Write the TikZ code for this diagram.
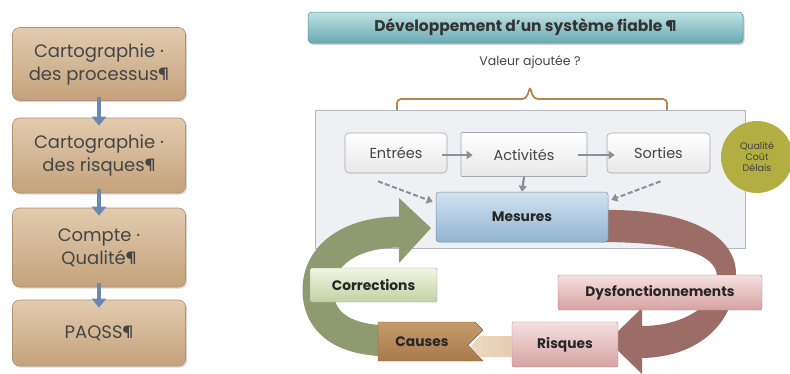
\documentclass[tikz,border=0pt]{standalone}
\usepackage{fontspec}
\setmainfont{Poppins}
\usetikzlibrary{arrows.meta,shadows,calc}
\definecolor{tanTop}{HTML}{E2CBAE}
\definecolor{tanBot}{HTML}{C4A27C}
\definecolor{tanLine}{HTML}{B09070}
\definecolor{steel}{HTML}{6A88B0}
\definecolor{tealTop}{HTML}{BFE2E4}
\definecolor{tealBot}{HTML}{6AAAB2}
\definecolor{panel}{HTML}{EEF0F4}
\definecolor{panelLine}{HTML}{B4B6BE}
\definecolor{boxLine}{HTML}{A8A4B0}
\definecolor{blueTop}{HTML}{D2E2F0}
\definecolor{blueBot}{HTML}{92B4D2}
\definecolor{olive}{HTML}{B2AE42}
\definecolor{greenA}{HTML}{8E9A70}
\definecolor{greenTop}{HTML}{F0F5E2}
\definecolor{greenBot}{HTML}{C2D2A6}
\definecolor{brownA}{HTML}{9C6C66}
\definecolor{pinkTop}{HTML}{F6E0E0}
\definecolor{pinkBot}{HTML}{D6A2A2}
\definecolor{causeTop}{HTML}{C49A6C}
\definecolor{causeBot}{HTML}{A87A4C}
\definecolor{lightTan}{HTML}{E6CCAE}
\definecolor{braceC}{HTML}{B4844A}
\definecolor{grayA}{HTML}{8C8E98}
\definecolor{txt}{HTML}{454545}
\tikzset{
  leftbox/.style={draw=tanLine, line width=0.6pt, rounded corners=7pt, top color=tanTop, bottom color=tanBot,
    minimum width=173pt, align=center, font=\fontsize{18}{23}\selectfont, text=txt,
    drop shadow={shadow xshift=1.5pt, shadow yshift=-1.5pt, opacity=0.3}},
  leftarrow/.style={draw=steel, line width=4.5pt, -{Triangle[width=14pt,length=9pt]}},
  titlebox/.style={draw=tealBot!80!black, line width=0.5pt, rounded corners=4pt, top color=tealTop, bottom color=tealBot,
    minimum width=435pt, minimum height=31pt, font=\bfseries\fontsize{15.5}{17}\selectfont, text=black!80,
    drop shadow={shadow xshift=1.5pt, shadow yshift=-2pt, opacity=0.35}},
  procbox/.style={draw=boxLine, line width=0.6pt, rounded corners=4pt, top color=white, bottom color=black!9,
    minimum height=40pt, font=\fontsize{14.5}{16}\selectfont, text=txt},
  grayarrow/.style={draw=grayA, line width=2.2pt, -{Triangle[width=8pt,length=6pt]}},
  dasharrow/.style={draw=grayA, line width=2pt, dash pattern=on 5pt off 2.5pt, -{Triangle[width=8pt,length=6pt]}},
  boldlabel/.style={font=\bfseries\fontsize{13.8}{16}\selectfont, text=black!85},
}
\begin{document}
\begin{tikzpicture}[x=1pt,y=-1pt]
\useasboundingbox (0,0) rectangle (790,373);

% ---- left column ----
\node[leftbox, minimum height=73pt] (b1) at (99,64) {Cartographie ·\\des processus¶};
\node[leftbox, minimum height=75pt] (b2) at (99,155.5) {Cartographie ·\\des risques¶};
\node[leftbox, minimum height=79pt] (b3) at (99,247.5) {Compte ·\\Qualité¶};
\node[leftbox, minimum height=66pt] (b4) at (99,333) {PAQSS¶};
\draw[leftarrow] ($(b1.south)+(0,-4)$) -- ($(b2.north)+(0,8)$);
\draw[leftarrow] ($(b2.south)+(0,-4)$) -- ($(b3.north)+(0,8)$);
\draw[leftarrow] ($(b3.south)+(0,-4)$) -- ($(b4.north)+(0,8)$);

% ---- title ----
\node[titlebox] (title) at (525.5,27.5) {Développement d'un système fiable ¶};
\node[font=\fontsize{12.5}{14}\selectfont, text=txt] (valeur) at (530,62) {Valeur ajoutée ?};
\draw[braceC, line width=1.8pt, rounded corners=4pt] (397,113) -- (397,99) -- (526,99) -- (530,88);
\draw[braceC, line width=1.8pt, rounded corners=4pt] (530,88) -- (534,99) -- (667,99) -- (667,113);

% ---- panel ----
\node[draw=panelLine, line width=0.8pt, fill=panel, minimum width=430pt, minimum height=138pt, inner sep=0pt] (panel) at (530,179) {};

\node[procbox, minimum width=102pt] (entrees) at (396,153) {Entrées};
\node[procbox, minimum width=126pt, minimum height=44pt, rounded corners=1pt] (activites) at (524,154.5) {Activités};
\node[procbox, minimum width=103pt] (sorties) at (658.5,153) {Sorties};
\draw[grayarrow] ($(entrees.east)+(-5,2)$) -- ($(activites.west)+(12,0.5)$);
\draw[grayarrow] ($(activites.east)+(-9,0.5)$) -- ($(sorties.west)+(8,2)$);

% ---- circle ----
\node[circle, fill=olive, minimum size=72pt, inner sep=0pt, align=center,
  font=\fontsize{9.5}{11}\selectfont, text=black!75] (qcd) at (757,157) {Qualité\\Coût\\Délais};

% ---- brown arrow (behind Mesures) ----
\fill[brownA] (598,210) .. controls (690,208) and (736,236) .. (736,274)
  .. controls (736,322) and (700,357) .. (642,358)
  -- (642,374) -- (608,341) -- (642,308) -- (642,326)
  .. controls (685,326) and (717,304) .. (717,277)
  .. controls (717,254) and (680,242) .. (598,242) -- cycle;

% ---- green arrow ----
\draw[greenA, line width=31pt] (392,341) .. controls (332,341) and (318,314) .. (318,290)
  .. controls (318,254) and (352,232) .. (400,232);
\fill[greenA] (399,198) -- (431,228) -- (399,263) -- cycle;

% ---- Mesures ----
\node[draw=blueBot!80!black, line width=0.5pt, rounded corners=3pt, top color=blueTop, bottom color=blueBot,
  minimum width=172pt, minimum height=50pt, boldlabel] (mesures) at (522,217) {Mesures};
\draw[grayarrow] (activites.south) -- (mesures.north);
\draw[dasharrow] ($(entrees.south)+(-18,8)$) -- ($(mesures.north west)+(-3,10)$);
\draw[dasharrow] ($(sorties.south)+(2,8)$) -- ($(mesures.north east)+(3,8)$);

% ---- Corrections ----
\node[draw=greenBot!80!black, line width=0.4pt, rounded corners=2pt, top color=greenTop, bottom color=greenBot,
  minimum width=127pt, minimum height=34pt, boldlabel] (corrections) at (373.5,285) {Corrections};

% ---- Dysfonctionnements / Risques ----
\node[draw=pinkBot!80!black, line width=0.4pt, rounded corners=2pt, top color=pinkTop, bottom color=pinkBot,
  minimum width=204pt, minimum height=35pt, boldlabel] (dysf) at (660,292.5) {Dysfonctionnements};
\node[draw=pinkBot!80!black, line width=0.4pt, rounded corners=2pt, top color=pinkTop, bottom color=pinkBot,
  minimum width=106pt, minimum height=45pt, boldlabel] (risques) at (565,344.5) {Risques};

% ---- Causes chevron ----
\shade[top color=causeTop, bottom color=causeBot, draw=causeBot!80!black, line width=0.4pt]
  (378,322) -- (475,322) -- (483,330) -- (468,345) -- (483,361) -- (378,361) -- cycle;
\node[boldlabel] (causes) at (422,342) {Causes};
\shade[left color=lightTan!75!white, right color=lightTan] ($(risques.west)+(0,-8.5)$) -- (480,336) -- (471,346.5) -- (480,357) -- ($(risques.west)+(0,12.5)$) -- cycle;
\end{tikzpicture}
\end{document}
